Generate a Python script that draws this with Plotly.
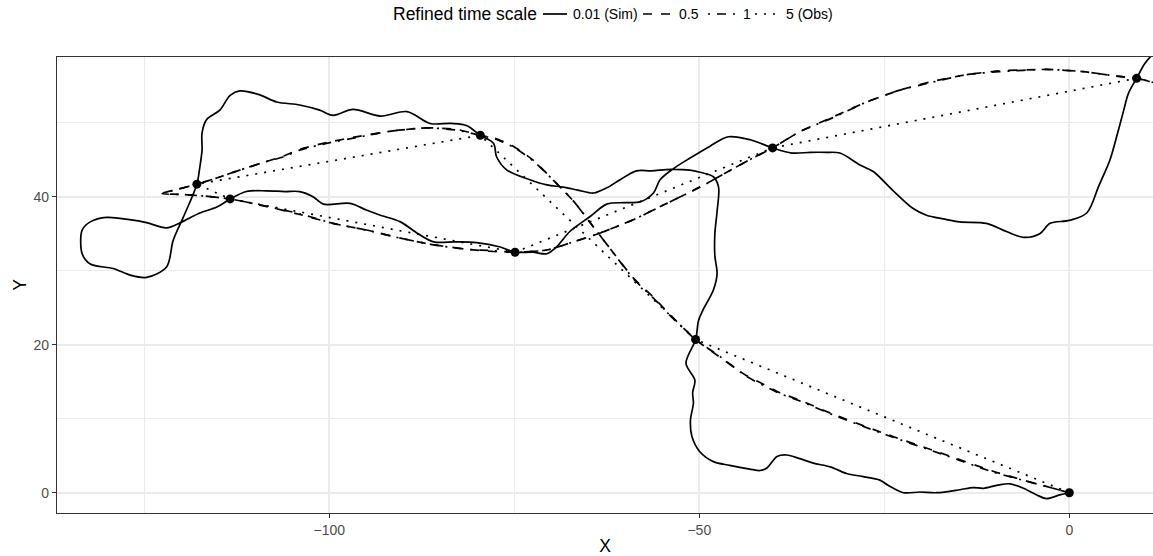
import plotly.graph_objects as go

# Simulated track at the finest time scale (0.01)
sim_x = [0.0, -1.3, -3.1, -4.4, -6.2, -8.0, -9.8, -11.6, -13.0, -14.8, -17.9, -20.2, -22.4, -24.5,
         -25.6, -28.0, -30.1, -32.3, -34.6, -36.4, -38.2, -39.5, -40.9, -41.8, -43.2, -45.9, -48.1,
         -49.9, -51.0, -51.2, -50.8, -50.9, -50.6, -51.8, -50.5, -50.1, -49.5, -48.1, -47.6, -47.9,
         -47.9, -47.6, -47.4, -48.1, -49.9, -51.3, -53.9, -56.5, -58.5, -60.7, -62.5, -64.3, -66.4,
         -68.4, -70.6, -72.9, -76.0, -77.4, -77.8, -79.6, -81.4, -83.5, -86.4, -89.5, -93.1, -96.8,
         -99.5, -101.3, -104.0, -107.1, -109.5, -112.1, -113.4, -114.8, -116.6, -117.2, -117.2,
         -117.5, -117.9, -119.7, -121.1, -122.0, -124.7, -126.9, -129.2, -132.3, -133.4, -133.4,
         -132.3, -130.1, -127.0, -124.7, -122.0, -120.1, -117.5, -115.2, -113.4, -111.2, -108.5,
         -106.0, -104.0, -102.2, -100.8, -97.2, -95.0, -93.1, -90.4, -88.0, -85.9, -83.0, -80.1,
         -76.9, -74.9, -72.5, -70.6, -69.3, -67.5, -64.8, -62.5, -60.0, -58.0, -56.2, -55.3, -53.5,
         -51.3, -48.6, -46.1, -43.1, -40.1, -37.5, -35.0, -32.8, -31.0, -28.3, -26.5, -24.0, -21.1,
         -19.3, -17.0, -14.8, -11.2, -8.5, -6.2, -4.0, -2.6, 0.0, 2.35, 4.0, 5.5, 6.5, 7.3, 8.0,
         9.1, 10.2, 11.5, 12.5]
sim_y = [0.0, -0.3, -0.8, -0.3, 0.6, 1.2, 1.0, 0.6, 0.7, 0.4, 0.0, 0.1, 0.0, 1.0,
         1.7, 2.2, 2.6, 3.5, 4.0, 4.6, 5.1, 4.9, 3.3, 3.0, 3.2, 3.7, 4.2,
         5.5, 7.6, 9.8, 12.1, 13.5, 15.2, 17.5, 20.7, 23.3, 24.7, 27.4, 29.6, 32.0,
         35.0, 38.0, 41.3, 42.7, 43.3, 43.6, 43.7, 43.5, 43.5, 42.3, 41.2, 40.5, 40.9,
         41.3, 41.6, 42.3, 43.6, 45.4, 47.2, 48.3, 49.6, 49.9, 49.9, 51.5, 50.9, 51.8,
         51.0, 51.7, 52.4, 52.8, 53.8, 54.3, 53.7, 51.7, 50.4, 48.6, 46.3,
         44.0, 41.7, 37.3, 34.1, 30.5, 29.1, 29.4, 30.3, 30.9, 32.3, 35.5,
         36.6, 37.2, 36.9, 36.5, 35.8, 36.5, 37.8, 38.6, 39.7, 40.7, 40.8,
         40.7, 40.7, 40.0, 39.0, 39.1, 38.2, 37.5, 36.6, 35.0, 33.9, 33.9, 33.8,
         33.2, 32.5, 32.5, 32.3, 33.2, 35.3, 37.3, 39.0, 39.2, 39.3, 40.5, 42.3, 43.8,
         45.2, 46.8, 48.1, 47.7, 46.6, 45.9, 46.0, 46.0, 45.9, 44.3, 43.4, 41.0, 38.4,
         37.5, 37.0, 36.6, 36.4, 35.3, 34.5, 35.0, 36.4, 36.8, 37.8, 41.5, 45.0, 48.5, 51.5, 54.0,
         56.0, 58.0, 59.5, 60.5]

# Refined track, time scale 0.5
r05_x = [0.0, -2.2, -6.2, -10.3, -16.6, -24.7, -31.9, -36.4, -39.1, -41.8, -43.6, -47.2, -50.5,
         -53.5, -56.2, -58.9, -61.6, -64.3, -67.0, -69.7, -72.4, -75.1, -77.6, -79.6,
         -82.8, -86.8, -91.4, -95.8, -100.4, -104.0, -106.2, -109.0, -112.1, -115.0, -117.9,
         -120.5, -122.6, -120.0, -117.0, -113.4, -108.5, -104.0, -99.5, -95.0, -90.4, -85.9,
         -81.4, -77.8, -74.9, -70.6, -67.0, -63.4, -58.9, -54.4, -49.9, -45.4, -43.2, -40.1,
         -36.4, -31.9, -27.4, -22.9, -18.4, -13.9, -9.4, -3.1, 1.9, 6.4, 9.1, 11.5, 14.0]
r05_y = [0.0, 0.6, 1.7, 2.9, 5.1, 7.9, 10.6, 12.5, 13.5, 14.9, 15.8, 18.3, 20.7,
         23.6, 26.4, 29.0, 32.4, 35.9, 39.4, 42.2, 44.9, 46.8, 47.9, 48.3,
         49.1, 49.3, 48.9, 48.2, 47.3, 46.4, 45.5, 44.6, 43.6, 42.6, 41.7,
         41.0, 40.45, 40.3, 40.1, 39.7, 38.7, 37.6, 36.4, 35.5, 34.4, 33.5,
         32.9, 32.6, 32.5, 32.8, 33.9, 35.1, 36.9, 39.1, 41.3, 43.8, 45.0, 46.6,
         48.8, 50.8, 52.8, 54.4, 55.6, 56.5, 57.0, 57.2, 56.9, 56.3, 56.0, 55.4, 54.8]

# Refined track, time scale 1
r1_x = [0.0, -2.2, -10.3, -16.6, -24.7, -31.9, -36.4, -39.1, -43.6, -47.2, -50.5,
        -53.5, -56.2, -58.9, -61.6, -64.3, -67.0, -69.7, -72.4, -75.1, -77.6, -79.6,
        -82.8, -86.8, -91.4, -95.8, -100.4, -104.0, -106.2, -109.0, -112.1, -115.0, -117.9,
        -120.5, -122.6, -120.0, -117.0, -113.4, -108.5, -104.0, -99.5, -95.0, -90.4, -85.9,
        -81.4, -77.8, -74.9, -70.6, -67.0, -63.4, -58.9, -54.4, -49.9, -45.4, -43.2, -40.1,
        -36.4, -31.9, -27.4, -22.9, -18.4, -13.9, -9.4, -3.1, 1.9, 6.4, 9.1, 11.5, 14.0]
r1_y = [0.0, 0.6, 2.8, 5.0, 7.8, 10.5, 12.4, 13.4, 15.7, 18.4, 20.7,
        23.5, 26.3, 28.9, 32.4, 35.9, 39.4, 42.2, 44.8, 46.7, 47.8, 48.3,
        49.0, 49.3, 48.9, 48.1, 47.2, 46.3, 45.4, 44.6, 43.6, 42.6, 41.7,
        41.0, 40.4, 40.3, 40.1, 39.7, 38.7, 37.7, 36.4, 35.5, 34.4, 33.5,
        32.9, 32.7, 32.5, 32.8, 33.9, 35.1, 36.9, 39.1, 41.3, 43.8, 45.0, 46.6,
        48.8, 50.7, 52.8, 54.4, 55.5, 56.5, 56.9, 57.2, 56.9, 56.3, 56.0, 55.4, 54.8]

# Observed fixes, time scale 5
obs_x = [0.0, -50.5, -79.6, -117.9, -113.4, -74.9, -40.1, 9.1, 20.0]
obs_y = [0.0, 20.7, 48.3, 41.7, 39.7, 32.5, 46.6, 56.0, 53.5]

legend_title = "Refined time scale"
legend_labels = ["0.01 (Sim)", "0.5", "1", "5 (Obs)"]

FONT = "Liberation Sans, Arial, Helvetica, sans-serif"
LW = 1.7
DASHES = ["solid", "9px,9px", "2px,7px,9px,7px", "2px,7px"]

fig = go.Figure()
fig.add_trace(go.Scatter(x=sim_x, y=sim_y, mode="lines",
                         line=dict(color="black", width=LW, dash=DASHES[0], shape="spline", smoothing=0.9),
                         name=legend_labels[0]))
fig.add_trace(go.Scatter(x=r05_x, y=r05_y, mode="lines",
                         line=dict(color="black", width=LW, dash=DASHES[1], shape="spline", smoothing=0.6),
                         name=legend_labels[1]))
fig.add_trace(go.Scatter(x=r1_x, y=r1_y, mode="lines",
                         line=dict(color="black", width=LW, dash=DASHES[2], shape="spline", smoothing=0.6),
                         name=legend_labels[2]))
fig.add_trace(go.Scatter(x=obs_x, y=obs_y, mode="lines",
                         line=dict(color="black", width=LW, dash=DASHES[3]), name=legend_labels[3]))
fig.add_trace(go.Scatter(x=obs_x, y=obs_y, mode="markers",
                         marker=dict(color="black", size=9), name="obs"))
fig.update_traces(showlegend=False, hoverinfo="skip")

W, H = 1153, 556
ML, MR, MT, MB = 57, 0, 57, 43
PW, PH = W - ML - MR, H - MT - MB


def px_to_paper(px, py):
    return (px - ML) / PW, (H - MB - py) / PH


# Legend drawn across the top: title, then key + label pairs
ly = 14
tx, ty = px_to_paper(391, ly)
fig.add_annotation(x=tx, y=ty, xref="paper", yref="paper", text=legend_title, showarrow=False,
                   xanchor="left", yanchor="middle", font=dict(family=FONT, size=17.5, color="black"))
keys = [(543, 567, 571), (643, 670, 677), (708, 735, 741), (755, 779, 784)]
for (k0, k1, lx), lab, dash in zip(keys, legend_labels, DASHES):
    x0, yk = px_to_paper(k0, ly)
    x1, _ = px_to_paper(k1, ly)
    fig.add_shape(type="line", xref="paper", yref="paper", x0=x0, x1=x1, y0=yk, y1=yk,
                  line=dict(color="black", width=LW, dash=dash))
    xl, _ = px_to_paper(lx, ly)
    fig.add_annotation(x=xl, y=yk, xref="paper", yref="paper", text=lab, showarrow=False,
                       xanchor="left", yanchor="middle", font=dict(family=FONT, size=14, color="black"))

x_range = [-136.8, -136.8 + PW / 7.4]
y_range = [-2.74, -2.74 + PH / 7.4]

axis_common = dict(
    showline=True, linecolor="#333333", linewidth=1.3,
    ticks="outside", ticklen=4, tickcolor="#333333", tickwidth=1.3,
    tickfont=dict(family=FONT, size=14, color="#4D4D4D"),
    showgrid=True, gridcolor="#EBEBEB", gridwidth=1.5,
    zeroline=False, tickmode="array",
)

fig.update_layout(
    width=W, height=H,
    margin=dict(l=ML, r=MR, t=MT, b=MB),
    paper_bgcolor="white", plot_bgcolor="white",
    font=dict(family=FONT),
    xaxis=dict(range=x_range, tickvals=[-100, -50, 0], mirror=True,
               minor=dict(tickmode="array", tickvals=[-125, -75, -25], showgrid=True,
                          gridcolor="#EBEBEB", gridwidth=0.8, ticks=""),
               title=dict(text="X", font=dict(family=FONT, size=17.5, color="black"), standoff=6),
               **axis_common),
    yaxis=dict(range=y_range, tickvals=[0, 20, 40], mirror=False,
               minor=dict(tickmode="array", tickvals=[10, 30, 50], showgrid=True,
                          gridcolor="#EBEBEB", gridwidth=0.8, ticks=""),
               title=dict(text="Y", font=dict(family=FONT, size=17.5, color="black"), standoff=2),
               **axis_common),
)

fig.write_html("out.html")
